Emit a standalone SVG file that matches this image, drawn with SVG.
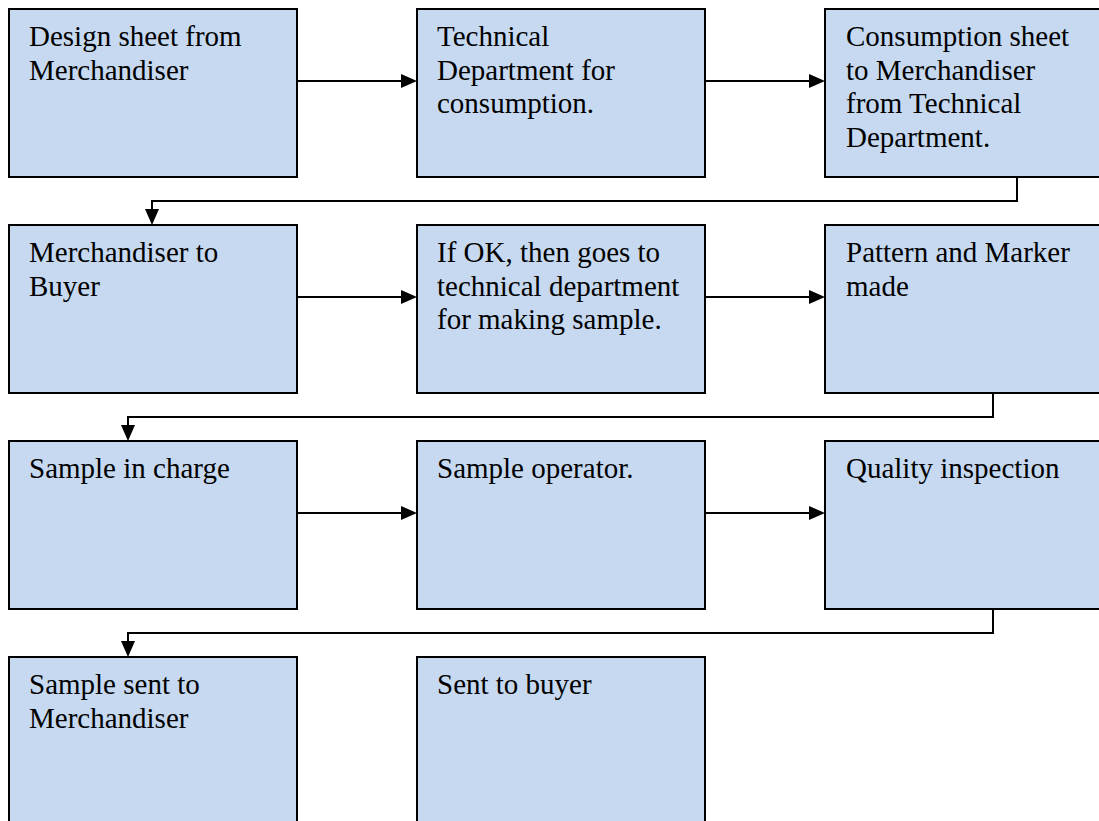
<svg xmlns="http://www.w3.org/2000/svg" width="1099" height="821" viewBox="0 0 1099 821">
  <style>
    .box { fill: #c6d9f0; stroke: #000; stroke-width: 2; }
    .lbl { font-family: 'Liberation Serif', serif; font-size: 29px; fill: #000; }
    .conn { fill: none; stroke: #000; stroke-width: 2; }
  </style>
  <defs>
    <marker id="arrow" markerUnits="userSpaceOnUse" markerWidth="16" markerHeight="14" viewBox="0 0 16 14" refX="2" refY="7" orient="auto">
      <path d="M0,0 L16,7 L0,14 z" fill="#000"/>
    </marker>
  </defs>
  <rect width="1099" height="821" fill="#fff"/>

  <!-- connectors -->
  <g id="connectors">
    <path class="conn" d="M297,81 H403" marker-end="url(#arrow)"/>
    <path class="conn" d="M705,81 H811" marker-end="url(#arrow)"/>
    <path class="conn" d="M1017,177 V201 H152 V211" marker-end="url(#arrow)"/>
    <path class="conn" d="M297,297 H403" marker-end="url(#arrow)"/>
    <path class="conn" d="M705,297 H811" marker-end="url(#arrow)"/>
    <path class="conn" d="M993,393 V417 H128 V427" marker-end="url(#arrow)"/>
    <path class="conn" d="M297,513 H403" marker-end="url(#arrow)"/>
    <path class="conn" d="M705,513 H811" marker-end="url(#arrow)"/>
    <path class="conn" d="M993,609 V633 H128 V643" marker-end="url(#arrow)"/>
  </g>

  <!-- row 1 -->
  <g id="design-sheet">
    <rect class="box" x="9" y="9" width="288" height="168"/>
    <text class="lbl" x="29" y="46">Design sheet from<tspan x="29" dy="33.7">Merchandiser</tspan></text>
  </g>
  <g id="technical-dept">
    <rect class="box" x="417" y="9" width="288" height="168"/>
    <text class="lbl" x="437" y="46">Technical<tspan x="437" dy="33.7">Department for</tspan><tspan x="437" dy="33.7">consumption.</tspan></text>
  </g>
  <g id="consumption-sheet">
    <rect class="box" x="825" y="9" width="290" height="168"/>
    <text class="lbl" x="846" y="46">Consumption sheet<tspan x="846" dy="33.7">to Merchandiser</tspan><tspan x="846" dy="33.7">from Technical</tspan><tspan x="846" dy="33.7">Department.</tspan></text>
  </g>

  <!-- row 2 -->
  <g id="merch-to-buyer">
    <rect class="box" x="9" y="225" width="288" height="168"/>
    <text class="lbl" x="29" y="262">Merchandiser to<tspan x="29" dy="33.7">Buyer</tspan></text>
  </g>
  <g id="if-ok">
    <rect class="box" x="417" y="225" width="288" height="168"/>
    <text class="lbl" x="437" y="262">If OK, then goes to<tspan x="437" dy="33.7">technical department</tspan><tspan x="437" dy="33.7">for making sample.</tspan></text>
  </g>
  <g id="pattern-marker">
    <rect class="box" x="825" y="225" width="290" height="168"/>
    <text class="lbl" x="846" y="262">Pattern and Marker<tspan x="846" dy="33.7">made</tspan></text>
  </g>

  <!-- row 3 -->
  <g id="sample-in-charge">
    <rect class="box" x="9" y="441" width="288" height="168"/>
    <text class="lbl" x="29" y="478">Sample in charge</text>
  </g>
  <g id="sample-operator">
    <rect class="box" x="417" y="441" width="288" height="168"/>
    <text class="lbl" x="437" y="478">Sample operator.</text>
  </g>
  <g id="quality-inspection">
    <rect class="box" x="825" y="441" width="290" height="168"/>
    <text class="lbl" x="846" y="478">Quality inspection</text>
  </g>

  <!-- row 4 -->
  <g id="sample-sent">
    <rect class="box" x="9" y="657" width="288" height="180"/>
    <text class="lbl" x="29" y="694">Sample sent to<tspan x="29" dy="33.7">Merchandiser</tspan></text>
  </g>
  <g id="sent-to-buyer">
    <rect class="box" x="417" y="657" width="288" height="180"/>
    <text class="lbl" x="437" y="694">Sent to buyer</text>
  </g>
</svg>
